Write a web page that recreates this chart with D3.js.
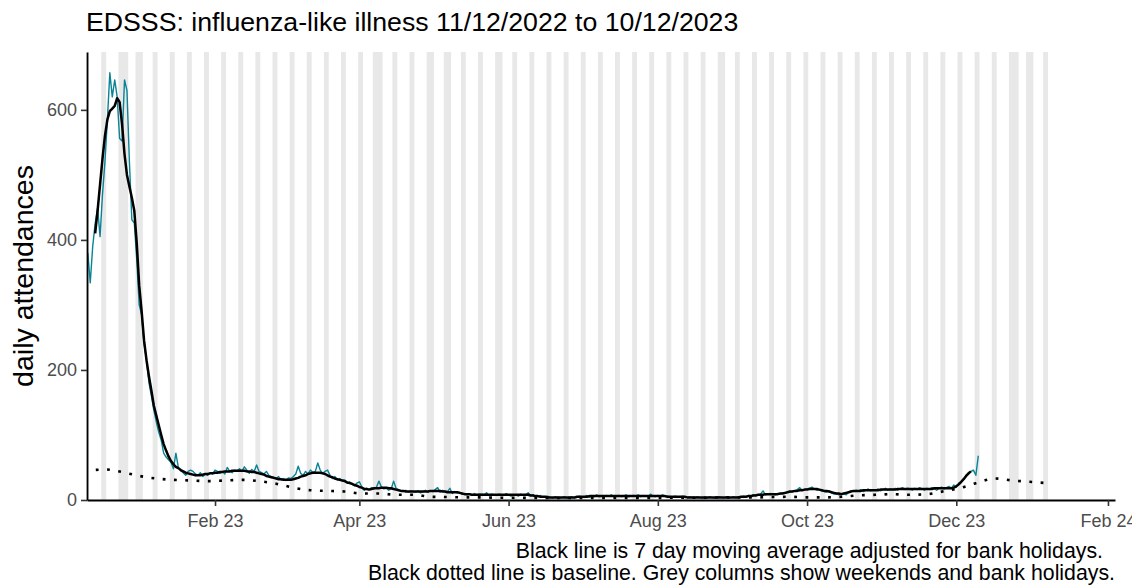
<!DOCTYPE html>
<html>
<head>
<meta charset="utf-8">
<script src="https://cdn.jsdelivr.net/npm/d3@7"></script>
<style>
  html, body { margin: 0; padding: 0; background: #ffffff; }
  svg { display: block; font-family: "Liberation Sans", Arial, Helvetica, sans-serif; }
</style>
</head>
<body>
<svg id="chart" width="1132" height="585"></svg>
<script>
// ---- data -------------------------------------------------------------
const seriesStart = "2022-12-11";

// daily ILI attendances, one value per day from seriesStart (Sun..Sat rows)
const dailyAttendances = [
  380, 334, 390, 425, 449, 405, 470,
  520, 585, 657, 620, 646, 620, 556,
  552, 646, 630, 520, 431, 426, 370,
  300, 285, 240, 215, 180, 160, 138,
  120, 104, 92, 72, 66, 62, 58,
  48, 72, 50, 45, 42, 38, 44,
  46, 44, 40, 38, 42, 36, 40,
  38, 42, 40, 46, 44, 41, 44,
  40, 50, 44, 42, 46, 45, 48,
  44, 51, 46, 41, 47, 44, 54,
  44, 42, 40, 44, 38, 36, 35,
  33, 36, 31, 33, 30, 34, 33,
  36, 40, 52, 41, 38, 44, 40,
  46, 42, 44, 57, 46, 41, 44,
  46, 38, 33, 36, 31, 33, 30,
  31, 26, 28, 24, 22, 26, 28,
  20, 15, 18, 16, 19, 17, 20,
  29, 20, 17, 18, 15, 17, 29,
  18, 16, 14, 13, 15, 12, 14,
  13, 12, 14, 11, 13, 15, 12,
  14, 13, 16, 19, 12, 15, 13,
  13, 18, 10, 13, 11, 12, 9,
  10, 8, 9, 7, 10, 8, 9,
  9, 8, 11, 7, 9, 8, 7,
  9, 8, 7, 10, 8, 6, 8,
  8, 6, 9, 7, 8, 11, 7,
  8, 6, 5, 7, 4, 5, 6,
  4, 3, 5, 4, 3, 4, 5,
  3, 4, 5, 3, 4, 6, 4,
  5, 7, 4, 6, 5, 8, 5,
  6, 5, 7, 6, 8, 5, 6,
  7, 5, 6, 8, 5, 6, 7,
  6, 8, 5, 7, 6, 5, 9,
  6, 5, 7, 6, 8, 5, 6,
  5, 4, 6, 5, 4, 6, 5,
  4, 5, 4, 3, 5, 4, 3,
  4, 3, 5, 4, 3, 4, 5,
  4, 3, 5, 3, 4, 5, 4,
  5, 4, 6, 5, 7, 6, 8,
  7, 8, 9, 14, 8, 9, 10,
  9, 8, 10, 9, 11, 10, 12,
  12, 13, 14, 16, 19, 15, 16,
  17, 18, 20, 17, 15, 16, 14,
  13, 12, 14, 11, 9, 10, 8,
  9, 10, 8, 12, 14, 13, 15,
  14, 16, 13, 15, 17, 14, 16,
  15, 17, 14, 16, 18, 15, 17,
  16, 18, 15, 17, 19, 16, 18,
  17, 15, 18, 16, 19, 17, 15,
  18, 16, 19, 17, 15, 18, 20,
  17, 19, 21, 18, 23, 20, 26,
  28, 32, 36, 40, 44, 46, 38,
  68
];

// 7 day moving average (bank holiday adjusted), same days as above
const movingAverage = [
  null, null, null, 410, 445, 485, 525,
  560, 585, 598, 602, 606, 618, 612,
  578, 532, 500, 482, 465, 445, 395,
  330, 290, 245, 215, 190, 168, 145,
  130, 115, 100, 86, 76, 67, 60,
  55, 51, 49, 46, 44, 42, 41,
  40, 39, 38, 38, 38, 39, 40,
  40, 41, 41, 42, 42, 43, 43,
  44, 44, 44, 45, 45, 45, 45,
  45, 45, 44, 44, 43, 43, 42,
  41, 40, 39, 37, 36, 35, 34,
  33, 32, 32, 31, 31, 31, 31,
  32, 33, 34, 36, 37, 38, 40,
  41, 42, 42, 42, 42, 41, 40,
  38, 36, 35, 33, 32, 31, 30,
  29, 27, 26, 25, 23, 22, 20,
  19, 17, 17, 16, 17, 18, 18,
  18, 19, 19, 19, 18, 18, 17,
  16, 15, 14, 14, 13, 13, 13,
  13, 13, 13, 13, 13, 13, 13,
  14, 14, 14, 14, 14, 13, 13,
  12, 12, 12, 12, 12, 11, 10,
  9, 9, 9, 8, 8, 8, 8,
  8, 8, 8, 8, 8, 8, 8,
  8, 8, 8, 8, 8, 8, 8,
  8, 8, 8, 8, 8, 8, 7,
  7, 6, 6, 5, 5, 5, 4,
  4, 4, 4, 4, 4, 4, 4,
  4, 4, 4, 4, 5, 5, 5,
  5, 5, 6, 6, 6, 6, 6,
  6, 6, 6, 6, 6, 6, 6,
  6, 6, 6, 6, 6, 6, 6,
  6, 6, 6, 6, 6, 6, 6,
  6, 6, 6, 6, 6, 6, 5,
  5, 5, 5, 5, 5, 5, 5,
  4, 4, 4, 4, 4, 4, 4,
  4, 4, 4, 4, 4, 4, 4,
  4, 4, 4, 4, 4, 4, 4,
  4, 5, 5, 5, 6, 6, 7,
  7, 8, 8, 8, 9, 9, 9,
  9, 9, 9, 10, 10, 11, 12,
  13, 13, 14, 14, 15, 15, 16,
  16, 17, 17, 17, 17, 16, 15,
  14, 14, 13, 12, 11, 10, 10,
  9, 10, 11, 12, 13, 14, 14,
  14, 14, 15, 15, 15, 15, 15,
  15, 15, 16, 16, 16, 16, 16,
  16, 16, 17, 17, 17, 17, 17,
  17, 17, 17, 17, 17, 17, 17,
  17, 17, 17, 18, 18, 18, 18,
  18, 18, 18, 18, 19, 21, 24,
  28, 32, 37, 41, 44, null, null,
  null
];

// baseline, one value per week from baselineStart
const baselineStart = "2022-12-11";
const baselineWeekly = [
  45, 47, 43, 37, 33, 31, 30, 29, 30, 31,
  29, 25, 19, 15, 14, 13, 10, 10, 8, 8,
  5, 4.5, 4, 4, 3.5, 3.5, 3, 3, 3, 3,
  3, 3, 3, 3, 3.5, 3.5, 3.5, 4, 4, 4,
  4.5, 5, 4, 4, 5, 7, 8, 9, 8, 9,
  13.5, 19, 27, 33, 30, 28, 26
];

// shaded days: weekends plus these bank holidays
const shadeStart = "2022-12-11";
const shadeEnd = "2024-01-07";
const bankHolidays = [
  "2022-12-26", "2022-12-27", "2023-01-02", "2023-04-07", "2023-04-10",
  "2023-05-01", "2023-05-08", "2023-05-29", "2023-08-28",
  "2023-12-25", "2023-12-26", "2024-01-01"
];

const xTickDates = ["2023-02-01", "2023-04-01", "2023-06-01", "2023-08-01",
                    "2023-10-01", "2023-12-01", "2024-02-01"];
const yTickValues = [0, 200, 400, 600];

const titleText = "EDSSS: influenza-like illness 11/12/2022 to 10/12/2023";
const yAxisLabel = "daily attendances";
const captionLines = [
  "Black line is 7 day moving average adjusted for bank holidays.",
  "Black dotted line is baseline. Grey columns show weekends and bank holidays."
];

// ---- chart ------------------------------------------------------------
const parseDay = d3.utcParse("%Y-%m-%d");
const fmtDay = d3.utcFormat("%Y-%m-%d");
const day0 = parseDay(seriesStart);
const dayAt = i => d3.utcDay.offset(day0, i);
const base0 = parseDay(baselineStart);

const plot = { left: 87, right: 1115, top: 52, bottom: 500 };

const x = d3.scaleUtc()
  .domain([new Date(Date.UTC(2022, 11, 10, 16)), new Date(Date.UTC(2024, 1, 3, 21))])
  .range([plot.left, plot.right]);
const y = d3.scaleLinear()
  .domain([0, 689])
  .range([plot.bottom, plot.top]);

const svg = d3.select("#chart");
svg.append("rect").attr("width", 1132).attr("height", 585).attr("fill", "#ffffff");

svg.append("defs").append("clipPath").attr("id", "panel")
  .append("rect")
  .attr("x", plot.left).attr("y", plot.top)
  .attr("width", plot.right - plot.left)
  .attr("height", plot.bottom - plot.top);

// weekend / bank holiday columns, merged into runs of consecutive days
const holidaySet = new Set(bankHolidays);
const allDays = d3.utcDay.range(parseDay(shadeStart), d3.utcDay.offset(parseDay(shadeEnd), 1));
const runs = [];
allDays.forEach(d => {
  const wd = d.getUTCDay();
  if (!(wd === 0 || wd === 6 || holidaySet.has(fmtDay(d)))) return;
  const last = runs[runs.length - 1];
  if (last && +d3.utcDay.offset(last.end, 1) === +d) last.end = d;
  else runs.push({ start: d, end: d });
});
const halfDay = 12 * 3600 * 1000;
svg.append("g").attr("clip-path", "url(#panel)")
  .selectAll("rect").data(runs).join("rect")
  .attr("x", r => x(new Date(+r.start - halfDay)))
  .attr("width", r => x(new Date(+r.end + halfDay)) - x(new Date(+r.start - halfDay)))
  .attr("y", plot.top)
  .attr("height", plot.bottom - plot.top)
  .attr("fill", "#e8e8e8");

const lines = svg.append("g").attr("clip-path", "url(#panel)");

// daily counts
lines.append("path")
  .datum(dailyAttendances)
  .attr("fill", "none")
  .attr("stroke", "#0a8396")
  .attr("stroke-width", 1.4)
  .attr("stroke-linejoin", "round")
  .attr("d", d3.line().x((d, i) => x(dayAt(i))).y(d => y(d)));

// moving average
lines.append("path")
  .datum(movingAverage)
  .attr("fill", "none")
  .attr("stroke", "#000000")
  .attr("stroke-width", 2.5)
  .attr("stroke-linejoin", "round")
  .attr("d", d3.line().defined(d => d != null).x((d, i) => x(dayAt(i))).y(d => y(d)));

// baseline
lines.append("path")
  .datum(baselineWeekly)
  .attr("fill", "none")
  .attr("stroke", "#000000")
  .attr("stroke-width", 2.6)
  .attr("stroke-dasharray", "2.8 8.5")
  .attr("stroke-dashoffset", 3.3)
  .attr("d", d3.line()
    .curve(d3.curveMonotoneX)
    .x((d, i) => x(d3.utcDay.offset(base0, 7 * i)))
    .y(d => y(d)));

// axes
const tickColour = "#4d4d4d";
const yAxis = svg.append("g")
  .attr("transform", `translate(${plot.left},0)`)
  .call(d3.axisLeft(y).tickValues(yTickValues).tickSize(6).tickSizeOuter(0).tickPadding(4));
const xAxis = svg.append("g")
  .attr("transform", `translate(0,${plot.bottom})`)
  .call(d3.axisBottom(x).tickValues(xTickDates.map(parseDay))
    .tickFormat(d3.utcFormat("%b %y")).tickSize(6).tickSizeOuter(0).tickPadding(5));

[yAxis, xAxis].forEach(g => {
  g.select(".domain").attr("stroke", "#000").attr("stroke-width", 1.8);
  g.selectAll(".tick line").attr("stroke", "#333").attr("stroke-width", 1.6);
  g.selectAll(".tick text")
    .attr("fill", tickColour)
    .style("font-size", "18px")
    .style("font-family", "\"Liberation Sans\", Arial, sans-serif");
});
xAxis.selectAll(".tick text").attr("dy", "0.9em");

// title
svg.append("text")
  .attr("x", 86).attr("y", 31)
  .attr("fill", "#000")
  .style("font-size", "26.7px")
  .text(titleText);

// y-axis title
svg.append("text")
  .attr("transform", `translate(33,${(plot.top + plot.bottom) / 2}) rotate(-90)`)
  .attr("text-anchor", "middle")
  .attr("fill", "#000")
  .style("font-size", "28.5px")
  .text(yAxisLabel);

// caption
svg.append("text")
  .attr("x", 1103).attr("y", 558)
  .attr("text-anchor", "end")
  .attr("fill", "#000")
  .style("font-size", "21.3px")
  .text(captionLines[0]);
svg.append("text")
  .attr("x", 1115).attr("y", 580)
  .attr("text-anchor", "end")
  .attr("fill", "#000")
  .style("font-size", "21.3px")
  .text(captionLines[1]);
</script>
</body>
</html>
